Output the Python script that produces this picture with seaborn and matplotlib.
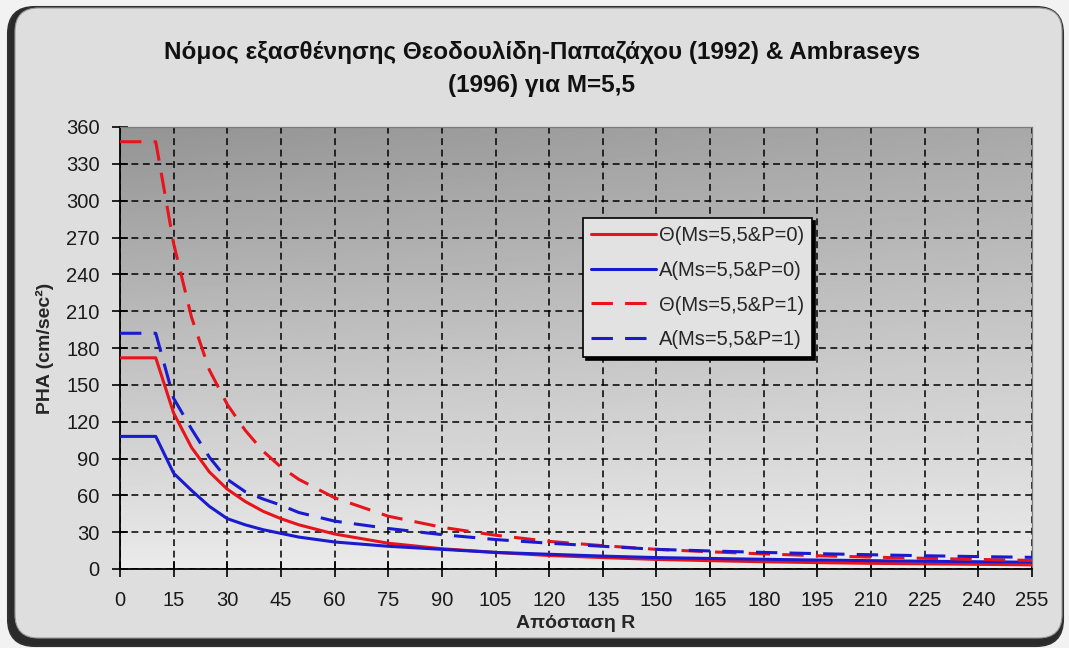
import numpy as np
import pandas as pd
import matplotlib
matplotlib.use("Agg")
import matplotlib.pyplot as plt
import seaborn as sns
from matplotlib.patches import FancyBboxPatch

# ---- data ----
R = [0, 10, 15, 20, 25, 30, 35, 40, 45, 50, 60, 75, 90, 105, 120, 135, 150,
     165, 180, 195, 210, 225, 240, 255]
theta_p0 = [172, 172, 127, 99, 79, 65, 55, 47, 41, 36, 28.5, 21, 16.5, 13.5, 11,
            9.3, 7.8, 6.8, 5.9, 5.2, 4.6, 4.2, 3.8, 3.4]
amb_p0 = [108, 108, 78, 64, 51, 41, 36, 32, 29, 26, 22, 18.5, 16, 13.5, 12,
          10.5, 9.3, 8.6, 7.9, 7.3, 6.8, 6.3, 5.9, 5.5]
theta_p1 = [348, 348, 265, 205, 162, 134, 113, 96, 83, 73, 58, 43, 34, 27.5, 22.5,
            19, 16, 14, 12.3, 10.8, 9.7, 8.7, 7.8, 7.0]
amb_p1 = [192, 192, 139, 114, 91, 73, 63, 57, 52, 46, 39, 33, 28, 24, 21,
          18.5, 16, 14.7, 13.5, 12.5, 11.6, 10.8, 10.1, 9.5]

labels = ["Θ(Ms=5,5&P=0)", "A(Ms=5,5&P=0)", "Θ(Ms=5,5&P=1)", "A(Ms=5,5&P=1)"]
x_ticks = list(range(0, 256, 15))
y_ticks = list(range(0, 361, 30))
title = "Νόμος εξασθένησης Θεοδουλίδη-Παπαζάχου (1992) & Ambraseys\n(1996) για M=5,5"
xlabel = "Απόσταση R"
ylabel = "PHA (cm/sec²)"

df = pd.concat([
    pd.DataFrame({"R": R, "PHA": v, "series": lab})
    for v, lab in zip([theta_p0, amb_p0, theta_p1, amb_p1], labels)
])

sns.set_theme(style="white")
plt.rcParams["font.family"] = ["Liberation Sans", "DejaVu Sans"]

W, H = 1069, 648
fig = plt.figure(figsize=(W / 100, H / 100), dpi=100)
fig.patch.set_facecolor("#f2f2f2")

# outer frame: dark shadow + light rounded panel
shadow = FancyBboxPatch((8 / W, 2 / H), (W - 14) / W, (H - 9) / H,
                        boxstyle="round,pad=0,rounding_size=0.025",
                        transform=fig.transFigure, facecolor="#2a2a2a",
                        edgecolor="#303030", lw=1.5, zorder=-3,
                        mutation_aspect=W / H)
panel = FancyBboxPatch((15 / W, 10 / H), (W - 22) / W, (H - 18) / H,
                       boxstyle="round,pad=0,rounding_size=0.022",
                       transform=fig.transFigure, facecolor="#dedede",
                       edgecolor="#9a9a9a", lw=0.8, zorder=-2,
                       mutation_aspect=W / H)
fig.patches.extend([shadow, panel])

ax = fig.add_axes([120 / W, (H - 569) / H, 912 / W, 442 / H])
ax.set_facecolor("none")
ax.set_zorder(1)

# gradient background of plot area (dark top-left -> light bottom)
gy = np.linspace(0, 1, 200)[:, None]
gx = np.linspace(0, 1, 200)[None, :]
grad = 0.58 + 0.34 * gy + 0.08 * gx * (1 - gy)
grad = np.clip(grad, 0, 0.92)
ax.imshow(grad, cmap="gray", vmin=0, vmax=1, extent=[0, 1, 0, 1],
          transform=ax.transAxes, aspect="auto", zorder=0)

palette = {labels[0]: "#e8141c", labels[1]: "#1a1ad0",
           labels[2]: "#e8141c", labels[3]: "#1a1ad0"}
dashes = {labels[0]: "", labels[1]: "", labels[2]: (7, 4), labels[3]: (7, 4)}
sns.lineplot(data=df, x="R", y="PHA", hue="series", style="series",
             palette=palette, dashes=dashes, hue_order=labels,
             style_order=labels, lw=2.2, ax=ax, zorder=3)

ax.set_xlim(0, 255)
ax.set_ylim(0, 360)
ax.set_xticks(x_ticks)
ax.set_yticks(y_ticks)
ax.grid(True, color="black", linestyle=(0, (4.5, 3)), lw=1.1, zorder=1)
ax.set_axisbelow(True)

for s in ["left", "bottom"]:
    ax.spines[s].set_color("black")
    ax.spines[s].set_linewidth(1.3)
for s in ["top", "right"]:
    ax.spines[s].set_color("#7a7a7a")
    ax.spines[s].set_linewidth(0.9)

ax.tick_params(axis="both", direction="inout", length=11, width=1.2,
               color="black", labelsize=14.5, labelcolor="#1a1a1a")
ax.tick_params(axis="x", bottom=True, pad=10)
ax.tick_params(axis="y", left=True, pad=9)

ax.set_xlabel(xlabel, fontsize=14, fontweight="bold", labelpad=4)
ax.set_ylabel(ylabel, fontsize=14, fontweight="bold", labelpad=9)

fig.text(542 / W, 1 - 69 / H, title, ha="center", va="center",
         fontsize=17.5, fontweight="bold", linespacing=1.55, color="#111111")

leg = ax.legend(loc="upper left", bbox_to_anchor=(0.5077, 0.794),
                borderaxespad=0, fontsize=14.5, frameon=True, fancybox=False,
                edgecolor="black", facecolor="#e2e2e2", framealpha=1,
                handlelength=3.2, labelspacing=0.78, handletextpad=0.15,
                borderpad=0.4, shadow={"color": "black", "alpha": 1},
                title=None)
leg.get_frame().set_linewidth(1.2)
leg.set_zorder(5)

fig.savefig("out.png", dpi=100, facecolor=fig.get_facecolor())
